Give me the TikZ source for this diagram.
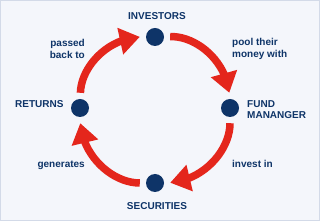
\documentclass[tikz,border=0pt]{standalone}
\usepackage{fontspec}
\setmainfont{Liberation Sans}
\usetikzlibrary{arrows.meta,bending}
\definecolor{navy}{HTML}{0E3468}
\definecolor{cyclered}{HTML}{E4261C}
\definecolor{panel}{HTML}{F4F6FB}
\definecolor{rim}{HTML}{D3DAE8}

\begin{document}
\begin{tikzpicture}[x=1pt, y=1pt,
    dot/.style={circle, fill=navy, minimum size=18pt, inner sep=0pt},
    tag/.style={text=navy, font=\fontsize{10}{11.5}\selectfont\bfseries, inner sep=0pt, align=left},
    flow/.style={cyclered, line width=7.5pt, -{Triangle[width=26pt,length=20pt]}, shorten <=6pt, shorten >=6pt}]
    % Panel
    \useasboundingbox (0,0) rectangle (320,221);
    \draw[rim, fill=panel] (0.5,0.5) rectangle (319.5,220.5);
    % Stations of the cycle
    \node[dot] (inv) at (155,184) {};
    \node[dot] (fund) at (230,113) {};
    \node[dot] (sec) at (155,38) {};
    \node[dot] (ret) at (80,113) {};
    % Arrows round the circle
    \draw[flow] (inv) to[bend left=45] (fund);
    \draw[flow] (fund) to[bend left=45] (sec);
    \draw[flow] (sec) to[bend left=45] (ret);
    \draw[flow] (ret) to[bend left=45] (inv);
    % Names
    \node[tag, anchor=base] (invname) at (157,201.5) {INVESTORS};
    \node[tag, anchor=base west] (fundname) at (247,102) {FUND\\MANANGER};
    \node[tag, anchor=base] (secname) at (157,11.5) {SECURITIES};
    \node[tag, anchor=base west] (retname) at (15,113) {RETURNS};
    % Verbs
    \node[tag, anchor=west] (pool) at (232,172) {pool their\\money with};
    \node[tag, anchor=base west] (invest) at (232,53) {invest in};
    \node[tag, anchor=base east] (gen) at (85,53) {generates};
    \node[tag, anchor=east, align=right] (back) at (85,172) {passed\\back to};
\end{tikzpicture}
\end{document}
